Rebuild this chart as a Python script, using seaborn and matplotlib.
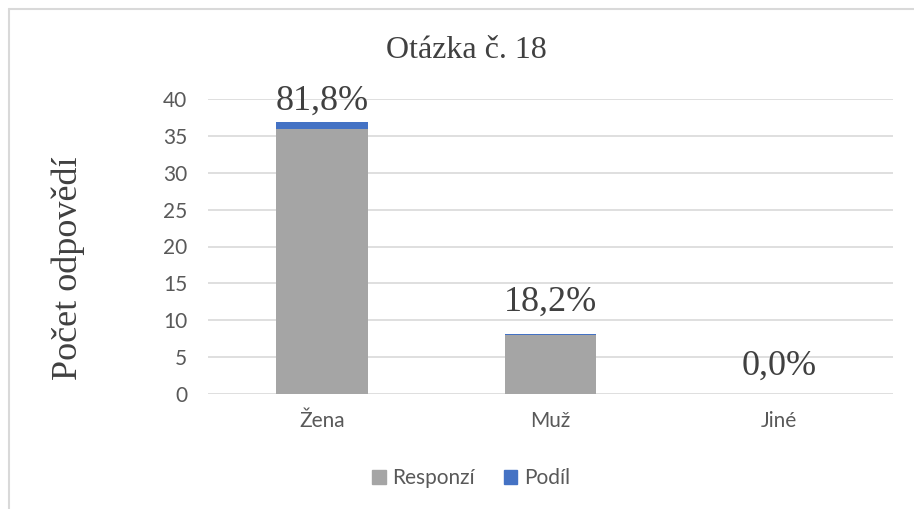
import pandas as pd
import seaborn as sns
import matplotlib.pyplot as plt
from matplotlib.patches import Patch
from matplotlib.lines import Line2D

# data
kategorie = ["Žena", "Muž", "Jiné"]
responzi = [36, 8, 0]
podil = [0.818, 0.182, 0.0]
popisky = ["81,8%", "18,2%", "0,0%"]

df = pd.DataFrame({"kategorie": kategorie, "responzi": responzi, "podil": podil})

sns.set_style("white")
plt.rcParams["font.family"] = ["Lato", "DejaVu Sans"]

fig = plt.figure(figsize=(9.14, 5.09), dpi=100)
ax = fig.add_axes([208 / 914, 1 - 394 / 509, (893 - 208) / 914, (394 - 99) / 509])

gray = "#A5A5A5"
blue = "#4472C4"

sns.barplot(data=df, x="kategorie", y="responzi", color=gray, width=0.4,
            saturation=1, linewidth=0, ax=ax, zorder=3)
sns.barplot(data=df, x="kategorie", y="podil", color=blue, width=0.4,
            saturation=1, linewidth=0, bottom=df["responzi"].values, ax=ax, zorder=3)

ax.set_ylim(0, 40)
ax.set_yticks(range(0, 41, 5))
ax.yaxis.grid(True, color="#D9D9D9", linewidth=1.2, zorder=0)
ax.set_axisbelow(True)
sns.despine(ax=ax, left=True, bottom=True)
ax.tick_params(axis="y", length=0, labelsize=15, colors="#595959", pad=15)
ax.tick_params(axis="x", length=0, labelsize=15, colors="#595959", pad=12)
ax.set_xlabel("")
ax.set_ylabel("")

# data labels above the stacked bars (gap in px above the bar top)
mezery = [13, 23, 19]
for i, (r, p, t) in enumerate(zip(responzi, podil, popisky)):
    ax.annotate(t, (i, r + p), xytext=(0, mezery[i] * 0.72), textcoords="offset points",
                ha="center", va="baseline", fontsize=26, color="#404040",
                family="Liberation Serif")

fig.text(466 / 914, 1 - 50 / 509, "Otázka č. 18", ha="center", va="center",
         fontsize=23, color="#404040", family="Liberation Serif")
fig.text(68 / 914, 1 - 268 / 509, "Počet odpovědí", ha="center", va="center",
         rotation=90, fontsize=26, color="#404040", family="Liberation Serif")

handles = [Patch(color=gray, label="Responzí"), Patch(color=blue, label="Podíl")]
leg = fig.legend(handles=handles, loc="center", bbox_to_anchor=(471 / 914, 1 - 478 / 509),
                 ncol=2, frameon=False, fontsize=15, handlelength=0.65, handleheight=0.65,
                 handletextpad=0.3, columnspacing=1.4)
for txt in leg.get_texts():
    txt.set_color("#595959")

# chart frame (only top and left edges visible)
fig.add_artist(Line2D([9 / 914, 9 / 914], [0, 1 - 9 / 509], color="#D9D9D9", linewidth=1.5,
                      transform=fig.transFigure))
fig.add_artist(Line2D([9 / 914, 1], [1 - 9 / 509, 1 - 9 / 509], color="#D9D9D9", linewidth=1.5,
                      transform=fig.transFigure))

fig.savefig("out.png", dpi=100)
